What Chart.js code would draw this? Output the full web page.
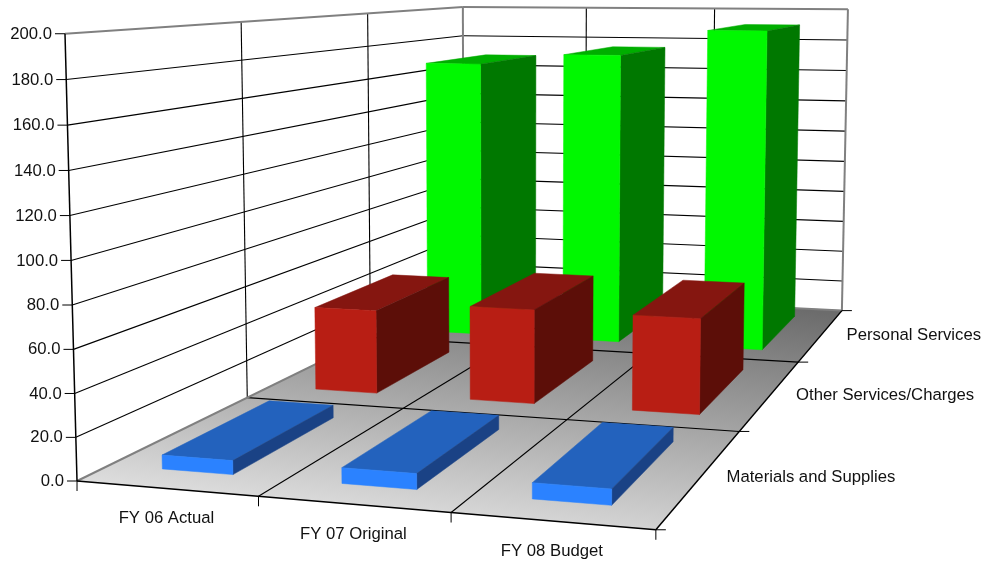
<!DOCTYPE html>
<html>
<head>
<meta charset="utf-8">
<title>Budget by fiscal year</title>
<script src="https://cdn.jsdelivr.net/npm/chart.js@4/dist/chart.umd.min.js"></script>
<style>
    html, body { margin: 0; padding: 0; background: #fff; }
    canvas { display: block; }
</style>
</head>
<body>
<canvas id="budget-chart" width="987" height="561"></canvas>
<script>
const fiscalYears = ['FY 06 Actual', 'FY 07 Original', 'FY 08 Budget'];
const costTypes = ['Materials and Supplies', 'Other Services/Charges', 'Personal Services'];

const materials = [6.5, 7.2, 7.2];
const otherServices = [45.0, 50.0, 50.0];
const personalServices = [168.5, 175.0, 190.5];

const faceColors = [
    { front: '#2b82ff', top: '#2362bd', side: '#1a4285' },
    { front: '#b81e14', top: '#851610', side: '#5c0e08' },
    { front: '#00f800', top: '#00ae00', side: '#007800' }
];

// camera fit: box corners and edge points [x, y, z] -> where they land on the canvas
const cameraAnchors = [
    [0, 0, 0, 77, 480], [0, 1, 0, 64.5, 34], [0, 1, 1, 463, 6], [1, 1, 1, 848, 10],
    [1, 0, 1, 842, 310], [1, 0, 0, 655, 530], [0, 0, 1, 463, 293],
    [1 / 3, 0, 0, 259, 497], [2 / 3, 0, 0, 451, 513],
    [1, 0, 1 / 3, 740, 432], [1, 0, 2 / 3, 798, 362],
    [0, 0, 1 / 3, 248, 397], [0, 0.5, 0, 71, 260],
    [1 / 3, 1, 1, 587, 8], [2 / 3, 1, 1, 714, 9], [1, 0.5, 1, 845, 160]
];

function fitCamera(anchors) {
    // least squares for the 11 free terms of a projective camera
    const rows = [];
    const rhs = [];
    anchors.forEach(([x, y, z, u, v]) => {
        rows.push([x, y, z, 1, 0, 0, 0, 0, -u * x, -u * y, -u * z]);
        rhs.push(u);
        rows.push([0, 0, 0, 0, x, y, z, 1, -v * x, -v * y, -v * z]);
        rhs.push(v);
    });
    const n = 11;
    const m = [];
    for (let i = 0; i < n; i++) {
        m.push(new Array(n + 1).fill(0));
        rows.forEach((row, k) => {
            for (let j = 0; j < n; j++) m[i][j] += row[i] * row[j];
            m[i][n] += row[i] * rhs[k];
        });
    }
    for (let c = 0; c < n; c++) {
        let pivot = c;
        for (let r = c + 1; r < n; r++) {
            if (Math.abs(m[r][c]) > Math.abs(m[pivot][c])) pivot = r;
        }
        [m[c], m[pivot]] = [m[pivot], m[c]];
        for (let r = 0; r < n; r++) {
            if (r === c) continue;
            const f = m[r][c] / m[c][c];
            for (let j = c; j <= n; j++) m[r][j] -= f * m[c][j];
        }
    }
    return m.map((row, i) => row[n] / row[i]);
}

const cam = fitCamera(cameraAnchors);

function project(x, y, z) {
    const w = cam[8] * x + cam[9] * y + cam[10] * z + 1;
    return [
        (cam[0] * x + cam[1] * y + cam[2] * z + cam[3]) / w,
        (cam[4] * x + cam[5] * y + cam[6] * z + cam[7]) / w
    ];
}

const barWidthRatio = 0.4;
const barDepthRatio = 0.66;

function polygon(ctx, points, fill) {
    ctx.beginPath();
    points.forEach((p, i) => i ? ctx.lineTo(p[0], p[1]) : ctx.moveTo(p[0], p[1]));
    ctx.closePath();
    ctx.fillStyle = fill;
    ctx.fill();
    ctx.strokeStyle = fill;
    ctx.lineWidth = 0.5;
    ctx.stroke();
}

function segment(ctx, a, b, color, width) {
    ctx.beginPath();
    ctx.moveTo(a[0], a[1]);
    ctx.lineTo(b[0], b[1]);
    ctx.strokeStyle = color;
    ctx.lineWidth = width;
    ctx.stroke();
}

const cubePlugin = {
    id: 'cube',
    beforeDatasetsDraw(chart) {
        const ctx = chart.ctx;
        const xs = chart.scales.x;
        const ys = chart.scales.y;
        const zs = chart.scales.depth;
        const xFrac = i => (xs.getPixelForValue(i) - xs.left) / xs.width;
        const zFrac = i => (zs.getPixelForValue(i) - zs.left) / zs.width;
        const yFrac = v => (ys.bottom - ys.getPixelForValue(v)) / ys.height;
        const xEdges = fiscalYears.map((_, i) => xFrac(i) + 0.5 / fiscalYears.length);
        const zEdges = costTypes.map((_, i) => zFrac(i) + 0.5 / costTypes.length);

        ctx.save();
        ctx.lineCap = 'butt';

        // floor
        const shade = ctx.createLinearGradient(100, 480, 133, 224);
        shade.addColorStop(0, '#dcdcdc');
        shade.addColorStop(1, '#6c6c6c');
        polygon(ctx, [project(0, 0, 0), project(1, 0, 0), project(1, 0, 1), project(0, 0, 1)], shade);

        // value gridlines on the side and back walls
        ys.ticks.forEach(t => {
            const h = yFrac(t.value);
            if (h === 0 || h === 1) return;
            segment(ctx, project(0, h, 0), project(0, h, 1), '#000', 1.1);
            segment(ctx, project(0, h, 1), project(1, h, 1), '#000', 1.1);
        });
        xEdges.slice(0, -1).forEach(e => {
            segment(ctx, project(e, 0, 1), project(e, 1, 1), '#000', 1.1);
            segment(ctx, project(e, 0, 0), project(e, 0, 1), '#000', 1.1);
        });
        zEdges.slice(0, -1).forEach(e => {
            segment(ctx, project(0, 0, e), project(0, 1, e), '#000', 1.1);
            segment(ctx, project(0, 0, e), project(1, 0, e), '#000', 1.1);
        });

        // wall frame
        const frame = '#808080';
        segment(ctx, project(0, 1, 0), project(0, 1, 1), frame, 2);
        segment(ctx, project(0, 1, 1), project(1, 1, 1), frame, 2);
        segment(ctx, project(0, 0, 1), project(0, 1, 1), frame, 2);
        segment(ctx, project(1, 0, 1), project(1, 1, 1), frame, 2);
        segment(ctx, project(0, 0, 1), project(1, 0, 1), frame, 2);
        segment(ctx, project(0, 0, 0), project(0, 0, 1), frame, 2);

        // axis lines
        segment(ctx, project(0, 0, 0), project(0, 1, 0), '#000', 1.5);
        segment(ctx, project(0, 0, 0), project(1, 0, 0), '#000', 1.5);
        segment(ctx, project(1, 0, 0), project(1, 0, 1), '#000', 1.5);

        // bars, back row first and left to right
        for (let d = chart.data.datasets.length - 1; d >= 0; d--) {
            const colors = faceColors[d];
            const halfZ = barDepthRatio / costTypes.length / 2;
            const z0 = zFrac(d) - halfZ;
            const z1 = zFrac(d) + halfZ;
            chart.data.datasets[d].data.forEach((value, i) => {
                const halfX = barWidthRatio / fiscalYears.length / 2;
                const x0 = xFrac(i) - halfX;
                const x1 = xFrac(i) + halfX;
                const h = yFrac(value);
                polygon(ctx, [project(x0, h, z0), project(x1, h, z0), project(x1, h, z1), project(x0, h, z1)], colors.top);
                polygon(ctx, [project(x1, 0, z0), project(x1, 0, z1), project(x1, h, z1), project(x1, h, z0)], colors.side);
                polygon(ctx, [project(x0, 0, z0), project(x1, 0, z0), project(x1, h, z0), project(x0, h, z0)], colors.front);
            });
        }

        // ticks and labels
        ctx.font = '16.7px "Liberation Sans", Arial, sans-serif';
        ctx.textBaseline = 'middle';

        ctx.textAlign = 'right';
        ys.ticks.forEach(t => {
            const p = project(0, yFrac(t.value), 0);
            segment(ctx, [p[0] - 10, p[1]], p, '#000', 1);
            ctx.fillStyle = '#111';
            ctx.fillText(t.value.toFixed(1), p[0] - 13, p[1] + 0.5);
        });

        ctx.textAlign = 'center';
        [0].concat(xEdges).forEach(e => {
            const p = project(e, 0, 0);
            segment(ctx, p, [p[0], p[1] + 10], '#000', 1);
        });
        fiscalYears.forEach((label, i) => {
            const p = project(xFrac(i), 0, 0);
            ctx.fillStyle = '#111';
            ctx.fillText(label, p[0], p[1] + 30);
        });

        ctx.textAlign = 'left';
        [0].concat(zEdges).forEach(e => {
            const p = project(1, 0, e);
            segment(ctx, p, [p[0] + 10, p[1]], '#000', 1);
        });
        costTypes.forEach((label, i) => {
            const p = project(1, 0, zFrac(i));
            ctx.fillStyle = '#111';
            ctx.fillText(label, p[0] + 25, p[1] + 1);
        });

        ctx.restore();
        return false;
    }
};

new Chart(document.querySelector('#budget-chart').getContext('2d'), {
    type: 'bar',
    data: {
        labels: fiscalYears,
        datasets: [
            { label: costTypes[0], data: materials },
            { label: costTypes[1], data: otherServices },
            { label: costTypes[2], data: personalServices }
        ]
    },
    options: {
        responsive: false,
        animation: false,
        plugins: { legend: { display: false }, tooltip: { enabled: false } },
        scales: {
            x: { display: false },
            y: { display: false, min: 0, max: 200, ticks: { stepSize: 20 } },
            depth: { type: 'category', axis: 'x', display: false, offset: true, labels: costTypes }
        }
    },
    plugins: [cubePlugin]
});
</script>
</body>
</html>
